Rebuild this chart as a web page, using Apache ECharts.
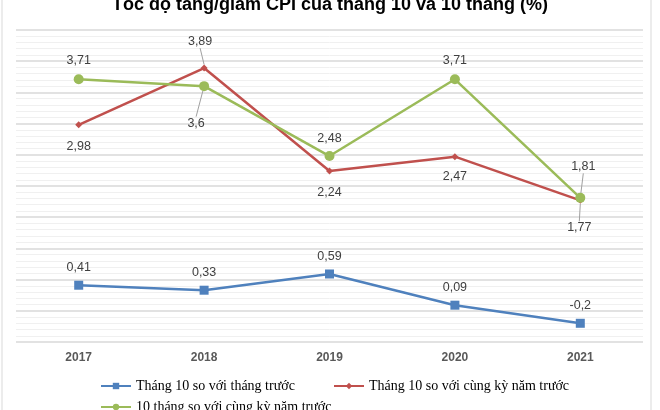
<!DOCTYPE html>
<html><head><meta charset="utf-8">
<script src="https://cdn.jsdelivr.net/npm/echarts@6/dist/echarts.min.js"></script>
<style>html,body{margin:0;padding:0;background:#fff}#c{width:660px;height:410px}</style>
</head><body><div id="c"></div>
<script>
const years = ['2017', '2018', '2019', '2020', '2021'];
const seriesNames = ['Tháng 10 so với tháng trước', 'Tháng 10 so với cùng kỳ năm trước', '10 tháng so với cùng kỳ năm trước'];
const monthOverMonth = [0.41, 0.33, 0.59, 0.09, -0.2];
const monthYoY = [2.98, 3.89, 2.24, 2.47, 1.77];
const tenMonthYoY = [3.71, 3.6, 2.48, 3.71, 1.81];
const titleText = 'Tốc độ tăng/giảm CPI của tháng 10 và 10 tháng (%)';

// label placement (style only)
const place = [
  [['top',6.5],['top',6.5],['top',6.5],['top',6.5],['top',6.5]],
  [['bottom',11.5],['top',5,-4,-11.5,true],['bottom',11.5],['bottom',9.5],['bottom',5,-1,12.5,true]],
  [['top',7.5],['bottom',5,-8,20.5,true],['top',6.5],['top',7.5],['top',5,3,-14.5,true]]
];
const colors = ['#4F81BD', '#C0504D', '#9BBB59'];
const symbols = ['rect', 'diamond', 'circle'];
const symSizes = [9, 7, 10];
const fmt = v => String(v).replace('.', ',');

function build(si, values) {
  return {
    name: seriesNames[si], type: 'line', data: values.map((v, i) => {
      const p = place[si][i];
      return {
        value: v,
        label: { position: p[0], distance: p[1] },
        labelLine: { show: !!p[4], lineStyle: { color: '#a0a0a0', width: 1 } }
      };
    }),
    symbol: symbols[si], symbolSize: symSizes[si], z: 3 + si,
    itemStyle: { color: colors[si] },
    lineStyle: { color: colors[si], width: 2.5 },
    label: { show: true, color: '#404040', fontSize: 12.5, fontFamily: 'Liberation Sans', formatter: p => fmt(p.value) },
    labelLayout: params => {
      const p = place[si][params.dataIndex];
      return p[4] ? { dx: p[2], dy: p[3] } : {};
    },
    emphasis: { disabled: true }, animation: false
  };
}

const chart = echarts.init(document.getElementById('c'), null, { renderer: 'canvas' });
const legendBase = { itemWidth: 30, itemHeight: 8, itemGap: 5, textStyle: { fontFamily: 'Liberation Serif', fontSize: 14, color: '#000' }, selectedMode: false };
chart.setOption({
  backgroundColor: '#fff',
  animation: false,
  title: { text: titleText, left: 'center', top: -9, textStyle: { fontFamily: 'Liberation Sans', fontWeight: 'bold', fontSize: 18, color: '#000' } },
  graphic: [{ type: 'rect', shape: { x: 2, y: -10, width: 649, height: 440 }, style: { fill: 'none', stroke: '#d9d9d9', lineWidth: 1 }, silent: true }],
  grid: { left: 16, right: 17, top: 30, bottom: 68 },
  legend: [
    Object.assign({ data: [seriesNames[0]], left: 95, top: 374 }, legendBase),
    Object.assign({ data: [seriesNames[1]], left: 328, top: 374 }, legendBase),
    Object.assign({ data: [seriesNames[2]], left: 95, top: 395 }, legendBase)
  ],
  xAxis: {
    type: 'category', data: years, boundaryGap: true,
    axisLine: { show: false }, axisTick: { show: false },
    axisLabel: { margin: 10, fontFamily: 'Liberation Sans', fontWeight: 'bold', fontSize: 12, color: '#595959' }
  },
  yAxis: {
    type: 'value', min: -0.5, max: 4.5, interval: 0.5,
    axisLabel: { show: false }, axisLine: { show: false }, axisTick: { show: false },
    splitLine: { lineStyle: { color: '#d9d9d9', width: 1.5 } },
    minorTick: { show: false, splitNumber: 5 },
    minorSplitLine: { show: true, lineStyle: { color: '#f0f0f0', width: 1 } }
  },
  series: [build(0, monthOverMonth), build(1, monthYoY), build(2, tenMonthYoY)]
});
</script></body></html>
